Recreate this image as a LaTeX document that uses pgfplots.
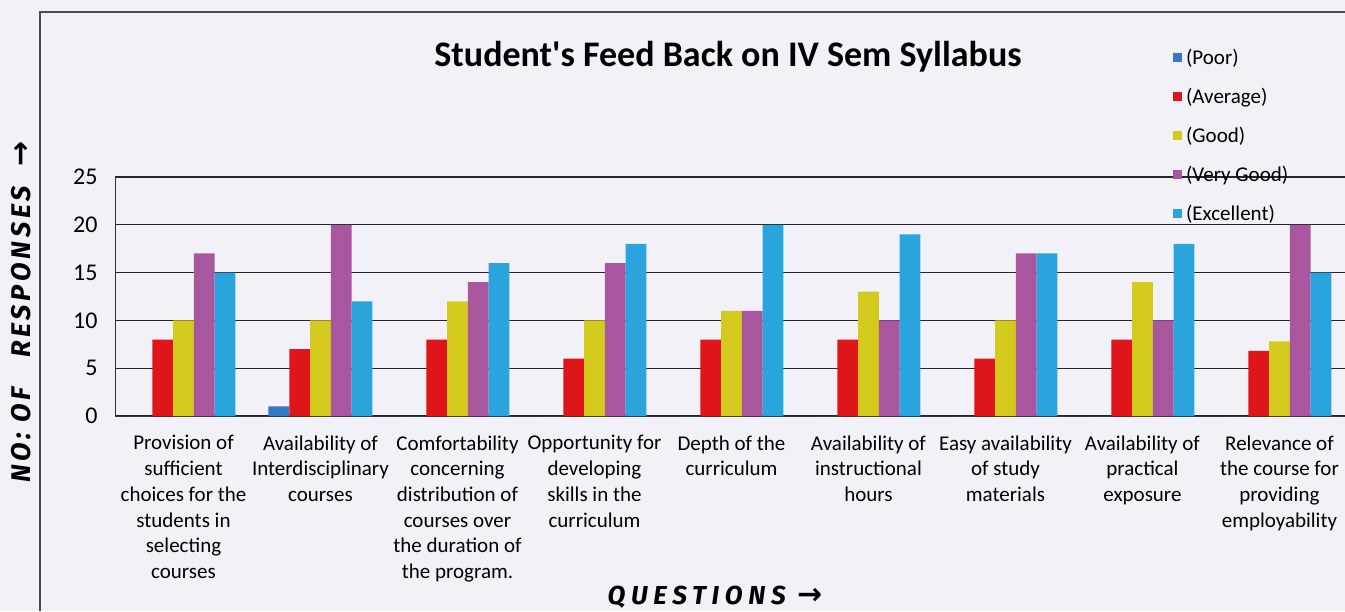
\documentclass[border=0pt]{standalone}
\usepackage{pgfplots}
\pgfplotsset{compat=1.18}
\usepackage{fontspec}
\setmainfont{Carlito}
\newfontfamily\titlefont[Ligatures=TeXOff]{Carlito}
\newfontfamily\hand[LetterSpace=14]{Fira Sans}
\newfontfamily\handwide[LetterSpace=22]{Fira Sans}
\newfontfamily\sym{DejaVu Sans}

\definecolor{paper}{RGB}{243,241,248}
\definecolor{poor}{RGB}{52,122,192}
\definecolor{avg}{RGB}{222,22,26}
\definecolor{good}{RGB}{212,202,30}
\definecolor{vgood}{RGB}{168,86,158}
\definecolor{excel}{RGB}{42,164,220}

\begin{document}
\begin{tikzpicture}
\fill[paper] (0,0) rectangle (1345pt,611pt);
\path[use as bounding box] (0,0) rectangle (1345pt,611pt);
\draw[black!70, line width=1.1pt] (40pt,0) -- (40pt,599pt) -- (1345pt,599pt);

\node[font=\titlefont\bfseries\fontsize{36}{40}\selectfont] at (728pt,554pt) {Student's Feed Back on IV Sem Syllabus};
\node[font=\hand\bfseries\itshape\fontsize{27}{30}\selectfont, rotate=90] at (21pt,299pt) {NO: OF\ \ \ RESPONSES\ \ {\sym\bfseries\fontsize{30}{30}\selectfont →}};
\node[font=\handwide\bfseries\itshape\fontsize{26}{30}\selectfont] at (715pt,14pt) {QUESTIONS\ {\sym\bfseries\fontsize{30}{30}\selectfont →}};

\begin{axis}[
  at={(115pt,195pt)}, anchor=south west,
  scale only axis, width=1233pt, height=239pt,
  ybar=0pt, bar width=20.8pt,
  xmin=-0.5, xmax=8.5, ymin=0, ymax=25,
  ytick={0,5,10,15,20,25},
  xtick={0,1,2,3,4,5,6,7,8},
  xticklabels={
    {Provision of\\sufficient\\choices for the\\students in\\selecting\\courses},
    {Availability of\\Interdisciplinary\\courses},
    {Comfortability\\concerning\\distribution of\\courses over\\the duration of\\the program.},
    {Opportunity for\\developing\\skills in the\\curriculum},
    {Depth of the\\curriculum},
    {Availability of\\instructional\\hours},
    {Easy availability\\of study\\materials},
    {Availability of\\practical\\exposure},
    {Relevance of\\the course for\\providing\\employability}},
  xticklabel style={align=center, font=\fontsize{21}{25.7}\selectfont, yshift=-16pt},
  yticklabel style={font=\fontsize{24}{26}\selectfont, xshift=-14pt},
  /pgf/number format/assume math mode=true,
  major tick length=0pt,
  axis x line*=bottom, axis y line*=left,
  axis line style={black!80, line width=1pt},
  ymajorgrids, grid style={black!85, line width=1.3pt},
  legend style={at={(axis description cs:0.858,1.543)}, anchor=north west,
    draw=none, fill=none, row sep=18pt, font=\fontsize{21}{25}\selectfont,
    inner sep=0pt, nodes={inner xsep=4pt}},
  legend cell align=left,
  legend image code/.code={\fill[#1] (0pt,-4.5pt) rectangle (9pt,4.5pt);},
]
\addplot[fill=poor, draw=none] coordinates {(0,0) (1,1) (2,0) (3,0) (4,0) (5,0) (6,0) (7,0) (8,0)};
\addlegendentry{(Poor)}
\addplot[fill=avg, draw=none] coordinates {(0,8) (1,7) (2,8) (3,6) (4,8) (5,8) (6,6) (7,8) (8,6.8)};
\addlegendentry{(Average)}
\addplot[fill=good, draw=none] coordinates {(0,10) (1,10) (2,12) (3,10) (4,11) (5,13) (6,10) (7,14) (8,7.8)};
\addlegendentry{(Good)}
\addplot[fill=vgood, draw=none] coordinates {(0,17) (1,20) (2,14) (3,16) (4,11) (5,10) (6,17) (7,10) (8,20)};
\addlegendentry{(Very Good)}
\addplot[fill=excel, draw=none] coordinates {(0,15) (1,12) (2,16) (3,18) (4,20) (5,19) (6,17) (7,18) (8,15)};
\addlegendentry{(Excellent)}
\end{axis}
\end{tikzpicture}
\end{document}
